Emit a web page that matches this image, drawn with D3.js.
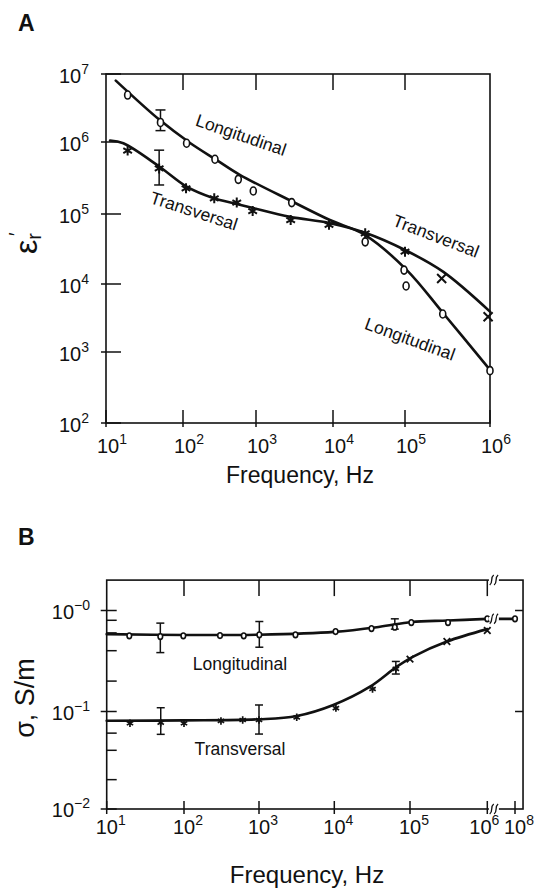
<!DOCTYPE html>
<html>
<head>
<meta charset="utf-8">
<script src="https://cdn.jsdelivr.net/npm/d3@7"></script>
<style>
body { margin: 0; background: #fff; }
svg text { font-family: "Liberation Sans", Arial, Helvetica, sans-serif; fill: #111; }
</style>
</head>
<body>
<script>
// ---- panel A : relative permittivity vs frequency ----
const freqTicksA = [1e1, 1e2, 1e3, 1e4, 1e5, 1e6]
const freqExpA = ['1', '2', '3', '4', '5', '6']
const epsTicks = [1e2, 1e3, 1e4, 1e5, 1e6, 1e7]
const epsExp = ['2', '3', '4', '5', '6', '7']

// fitted curves [Hz, eps']
const longCurveA = [[13.4, 8.0e6], [50, 2.1e6], [125, 9.7e5], [290, 5.6e5], [600, 3.5e5],
	[3000, 1.48e5], [9100, 8.2e4], [2.8e4, 5.0e4], [1.05e5, 1.58e4], [2.8e5, 3750], [1e6, 560]]
const transCurveA = [[11.3, 1.05e6], [16.8, 9.6e5], [50, 4.5e5], [112, 2.4e5], [258, 1.67e5], [545, 1.38e5],
	[910, 1.21e5], [2770, 9.1e4], [9140, 7.4e4], [2.8e4, 5.4e4], [1e5, 3.06e4], [2.8e5, 1.5e4], [1e6, 3920]]

// measured points
const longFreqA = [19.1, 51, 112, 274, 572, 918, 2910, 2.8e4, 9.7e4, 1.03e5, 2.78e5, 1e6]
const longEpsA = [4.9e6, 1.94e6, 9.6e5, 5.75e5, 3.03e5, 2.09e5, 1.44e5, 4.0e4, 1.58e4, 9350, 3620, 546]
const transFreqA = [19.1, 49, 110, 268, 545, 900, 2820, 8870, 2.8e4, 1e5]
const transEpsA = [7.6e5, 4.3e5, 2.27e5, 1.65e5, 1.44e5, 1.1e5, 8.2e4, 7.0e4, 5.3e4, 2.9e4]
const crossFreqA = [2.7e5, 9.5e5]
const crossEpsA = [1.2e4, 3300]
// error bars [Hz, low, high]
const errA = [[51, 1.47e6, 2.96e6], [49, 2.53e5, 7.7e5]]

// ---- panel B : conductivity vs frequency ----
const freqTicksB = [1e1, 1e2, 1e3, 1e4, 1e5, 1e6, 1e8]
const freqExpB = ['1', '2', '3', '4', '5', '6', '8']
const sigmaTicks = [1e-2, 1e-1, 1]
const sigmaExp = ['\u22122', '\u22121', '\u22120']
const sigmaMinor = [0.02, 0.04, 0.06, 0.08, 0.2, 0.4, 0.6, 0.8]
const breakFreq = 3e6
const freqEndB = 3.8e8
const sigmaTop = 2

const longCurveB = [[10, 0.583], [100, 0.572], [1000, 0.576], [1e4, 0.614], [4e4, 0.69], [1.05e5, 0.77],
	[3.1e5, 0.795], [1e6, 0.827]]
const longTailB = [[1e6, 0.827], [1e8, 0.827]]
const transCurveB = [[10, 0.0805], [100, 0.081], [1000, 0.0832], [3170, 0.0899], [9700, 0.116], [2.96e4, 0.176],
	[6.7e4, 0.278], [1.1e5, 0.35], [3e5, 0.493], [1e6, 0.654]]

const longFreqB = [19.6, 49.4, 98, 302, 626, 1010, 3050, 1.04e4, 3.1e4, 6.3e4, 1.04e5, 3.1e5, 1e6, 1e8]
const longSigB = [0.561, 0.552, 0.561, 0.565, 0.561, 0.574, 0.574, 0.619, 0.663, 0.684, 0.76, 0.76, 0.827, 0.827]
const transFreqB = [20, 50, 100, 311, 606, 1000, 3170, 1.05e4, 3.2e4, 6.5e4]
const transSigB = [0.0757, 0.0767, 0.0757, 0.08, 0.0818, 0.0818, 0.0872, 0.108, 0.167, 0.264]
const crossFreqB = [1e5, 3e5, 1e6]
const crossSigB = [0.33, 0.493, 0.634]
const errB = [[49.4, 0.383, 0.75], [1010, 0.433, 0.778], [6.3e4, 0.654, 0.827],
	[50, 0.0583, 0.109], [1000, 0.0587, 0.116], [6.5e4, 0.235, 0.313]]

const ink = '#111'

const svg = d3.select('body').append('svg')
	.attr('width', 541)
	.attr('height', 888)

// the printed axes are a bit irregular, so every decade gets its own stop
const xA = d3.scaleLog().domain(freqTicksA).range([106, 183, 256, 333, 405, 490])
const yA = d3.scaleLog().domain(epsTicks).range([423, 352, 284, 214, 142, 74])
const xB = d3.scaleLog().domain(freqTicksB).range([106.7, 184, 259, 334.3, 410, 487.3, 515])
const yB = d3.scaleLog().domain(sigmaTicks).range([809, 711.5, 610.5])

function powLabel(g, x, y, exp, anchor, base, sup) {
	const t = g.append('text')
		.attr('x', x)
		.attr('y', y)
		.attr('text-anchor', anchor)
		.attr('font-size', base)
	t.append('tspan').text('10')
	t.append('tspan').attr('font-size', sup).attr('dy', -9).text(exp)
}

function tick(g, x1, y1, x2, y2) {
	g.append('line')
		.attr('x1', x1).attr('y1', y1)
		.attr('x2', x2).attr('y2', y2)
		.attr('stroke', ink)
		.attr('stroke-width', 1.5)
}

function curve(g, data, x, y) {
	const line = d3.line()
		.x(d => x(d[0]))
		.y(d => y(d[1]))
		.curve(d3.curveCatmullRom.alpha(0.5))
	g.append('path')
		.attr('d', line(data))
		.attr('fill', 'none')
		.attr('stroke', ink)
		.attr('stroke-width', 2.6)
		.attr('stroke-linecap', 'round')
}

function circles(g, fx, fy, x, y, rx, ry) {
	g.selectAll(null)
		.data(d3.zip(fx, fy))
		.join('ellipse')
		.attr('cx', d => x(d[0]))
		.attr('cy', d => y(d[1]))
		.attr('rx', rx)
		.attr('ry', ry)
		.attr('fill', '#fff')
		.attr('stroke', ink)
		.attr('stroke-width', 1.6)
}

function symbols(g, fx, fy, x, y, type, size, sw) {
	const sym = d3.symbol(type, size)
	g.selectAll(null)
		.data(d3.zip(fx, fy))
		.join('path')
		.attr('d', sym)
		.attr('transform', d => `translate(${x(d[0])},${y(d[1])})`)
		.attr('fill', 'none')
		.attr('stroke', ink)
		.attr('stroke-width', sw)
}

function errorBars(g, data, x, y, cap) {
	data.forEach(d => {
		const cx = x(d[0])
		tick(g, cx, y(d[1]), cx, y(d[2]))
		tick(g, cx - cap, y(d[1]), cx + cap, y(d[1]))
		tick(g, cx - cap, y(d[2]), cx + cap, y(d[2]))
	})
}

function breakMark(g, cx, cy) {
	g.append('rect')
		.attr('x', cx - 5).attr('y', cy - 2)
		.attr('width', 10).attr('height', 4)
		.attr('fill', '#fff')
	;[-2.2, 2.2].forEach(dx => {
		const x = cx + dx
		g.append('path')
			.attr('d', `M${x - 2},${cy + 5} C${x + 2},${cy + 2} ${x - 2},${cy - 2} ${x + 2},${cy - 5}`)
			.attr('fill', 'none')
			.attr('stroke', ink)
			.attr('stroke-width', 1.3)
	})
}

// ================= panel A =================
const gA = svg.append('g').attr('class', 'panel-a')

gA.append('text')
	.attr('x', 18).attr('y', 31)
	.attr('font-size', 23).attr('font-weight', 'bold')
	.text('A')

const leftA = xA(1e1), rightA = xA(1e6), topA = yA(1e7), botA = yA(1e2)

gA.append('rect')
	.attr('x', leftA).attr('y', topA)
	.attr('width', rightA - leftA).attr('height', botA - topA)
	.attr('fill', 'none').attr('stroke', ink).attr('stroke-width', 1.6)

freqTicksA.forEach((f, i) => {
	tick(gA, xA(f), botA - 13, xA(f), botA + 4)
	if (i > 0 && i < freqTicksA.length - 1) tick(gA, xA(f), topA, xA(f), topA + 16)
	powLabel(gA, xA(f) + 6, 453, freqExpA[i], 'middle', 20, 14)
})

epsTicks.forEach((v, i) => {
	tick(gA, leftA - 5, yA(v), leftA + 15, yA(v))
	powLabel(gA, 89, yA(v) + 9, epsExp[i], 'end', 20, 14)
})

gA.append('text')
	.attr('x', 300).attr('y', 483)
	.attr('text-anchor', 'middle')
	.attr('font-size', 23)
	.text('Frequency, Hz')

const epsLabel = gA.append('text')
	.attr('transform', 'translate(37,254) rotate(-90)')
	.attr('font-size', 32)
epsLabel.append('tspan').text('\u03b5')
epsLabel.append('tspan').attr('font-size', 20).attr('dy', 4).text('r')
epsLabel.append('tspan').attr('font-size', 20).attr('dx', -3).attr('dy', -18).text('\u2032')

curve(gA, longCurveA, xA, yA)
curve(gA, transCurveA, xA, yA)
errorBars(gA, errA, xA, yA, 5)
circles(gA, longFreqA, longEpsA, xA, yA, 3, 4)
symbols(gA, transFreqA, transEpsA, xA, yA, d3.symbolAsterisk, 70, 2)
symbols(gA, crossFreqA, crossEpsA, xA, yA, d3.symbolTimes, 55, 2)

const notesA = [
	{ text: 'Longitudinal', x: 241, y: 135, a: 19 },
	{ text: 'Transversal', x: 194, y: 211, a: 18 },
	{ text: 'Transversal', x: 436, y: 236, a: 21 },
	{ text: 'Longitudinal', x: 410, y: 339, a: 20 }
]
gA.selectAll(null)
	.data(notesA)
	.join('text')
	.attr('transform', d => `translate(${d.x},${d.y}) rotate(${d.a})`)
	.attr('text-anchor', 'middle')
	.attr('dominant-baseline', 'central')
	.attr('font-size', 17.5)
	.text(d => d.text)

// ================= panel B =================
const gB = svg.append('g').attr('class', 'panel-b')

gB.append('text')
	.attr('x', 18).attr('y', 545)
	.attr('font-size', 23).attr('font-weight', 'bold')
	.text('B')

const leftB = xB(1e1), rightB = xB(freqEndB), topB = yB(sigmaTop), botB = yB(1e-2)

gB.append('rect')
	.attr('x', leftB).attr('y', topB)
	.attr('width', rightB - leftB).attr('height', botB - topB)
	.attr('fill', 'none').attr('stroke', ink).attr('stroke-width', 1.6)

freqTicksB.forEach((f, i) => {
	tick(gB, xB(f), botB - 8, xB(f), botB + 5)
	if (i > 0 && i < 6) tick(gB, xB(f), topB, xB(f), topB + 16)
	powLabel(gB, xB(f) + (f === 1e6 ? -3 : 4), 834, freqExpB[i], 'middle', 20, 14)
})

sigmaTicks.forEach((v, i) => {
	tick(gB, leftB - 6, yB(v), leftB + 10, yB(v))
	if (v > 0.01) tick(gB, rightB - 8, yB(v), rightB, yB(v))
	powLabel(gB, 90, yB(v) + 8, sigmaExp[i], 'end', 20, 14)
})
sigmaMinor.forEach(v => tick(gB, leftB, yB(v), leftB + 10, yB(v)))

gB.append('text')
	.attr('x', 307).attr('y', 883)
	.attr('text-anchor', 'middle')
	.attr('font-size', 24)
	.text('Frequency, Hz')

gB.append('text')
	.attr('transform', 'translate(34,698) rotate(-90)')
	.attr('text-anchor', 'middle')
	.attr('font-size', 27)
	.text('\u03c3, S/m')

curve(gB, longCurveB, xB, yB)
curve(gB, longTailB, xB, yB)
curve(gB, transCurveB, xB, yB)
errorBars(gB, errB, xB, yB, 4)
circles(gB, longFreqB, longSigB, xB, yB, 2.3, 2.8)
symbols(gB, transFreqB, transSigB, xB, yB, d3.symbolAsterisk, 38, 1.7)
symbols(gB, crossFreqB, crossSigB, xB, yB, d3.symbolTimes, 30, 1.8)

breakMark(gB, xB(breakFreq), topB)
breakMark(gB, xB(breakFreq), botB)
breakMark(gB, xB(breakFreq), yB(0.827))

gB.selectAll(null)
	.data([{ text: 'Longitudinal', y: 670 }, { text: 'Transversal', y: 755 }])
	.join('text')
	.attr('x', 240)
	.attr('y', d => d.y)
	.attr('text-anchor', 'middle')
	.attr('font-size', 17.5)
	.text(d => d.text)
</script>
</body>
</html>
